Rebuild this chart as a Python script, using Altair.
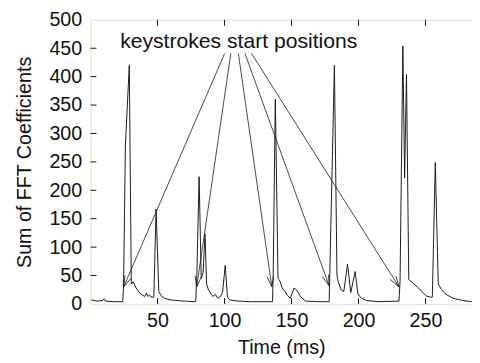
import math
import altair as alt
import pandas as pd

# ---- signal (Time in ms, Sum of FFT coefficients) ----
time_ms = [0.5, 5, 9, 10, 11, 18, 24.0, 24.6, 26.0, 28.9, 30.4, 31.8, 34, 36.7,
           40.4, 41.6, 42.8, 44, 45.2, 47.2, 48.9, 50.9, 52.5, 55, 60, 70, 78.5,
           79.3, 81.0, 82.6, 84.0, 85.4, 86.6, 88, 90, 91.5, 93, 95, 96.5, 98.5,
           100.5, 102.2, 104, 110, 120, 135.8, 136.3, 137.9, 139.9, 141.4, 143,
           145, 147, 149, 151.9, 153.5, 155, 157, 160.4, 170, 178.1, 182.0, 183.9,
           185, 187, 189, 191.8, 194.2, 197.5, 199.5, 202, 206, 215, 230.2, 231,
           233.1, 234.4, 235.8, 237.5, 240, 244.8, 248, 250.7, 253.6, 255.1, 257.3,
           259.5, 262, 264.6, 270.5, 277.8, 284.4]
fft_sum = [7, 5, 6, 9, 5, 4, 4, 30, 280, 420, 35, 39, 28, 19,
           13, 19, 13, 16, 12, 12, 167, 22, 15, 10, 7, 5, 4,
           50, 224, 45, 55, 123, 35, 25, 17, 13, 17, 10, 12, 20,
           68, 12, 7, 5, 4, 4, 50, 360, 45, 40, 28,
           22, 15, 10, 28, 25, 20, 12, 5, 4, 4, 420, 50,
           38, 25, 22, 70, 20, 57, 18, 10, 6, 4, 5, 40,
           454, 222, 404, 43, 38, 28, 20, 14, 12, 12, 249,
           35, 25, 18, 10, 6, 4]

# ---- annotation ----
label_text = "keystrokes start positions"
label_t = 110.6
label_v = 450.0
arrow_start_t = [100.1, 104.7, 110.3, 115.2, 120.1]
arrow_start_v = [441, 441, 441, 441, 441]
arrow_end_t = [24.7, 79.2, 135.3, 178.1, 230.2]
arrow_end_v = [30, 30, 30, 32, 30]

x_ticks = [50, 100, 150, 200, 250]
y_ticks = [0, 50, 100, 150, 200, 250, 300, 350, 400, 450, 500]

W, H = 388, 289
X_MAX, Y_MAX = 284.7, 500
FONT = "Liberation Sans"

sig = pd.DataFrame({"t": time_ms, "v": fft_sum})

# arrowhead angles from screen direction
angles = []
for st, sv, et, ev in zip(arrow_start_t, arrow_start_v, arrow_end_t, arrow_end_v):
    dx = (et - st) * W / X_MAX
    dy = -(ev - sv) * H / Y_MAX
    angles.append(math.degrees(math.atan2(-dx, dy)) % 360)
arr = pd.DataFrame({"t": arrow_start_t, "v": arrow_start_v,
                    "t2": arrow_end_t, "v2": arrow_end_v, "ang": angles})

xs = alt.Scale(domain=[0, X_MAX], nice=False, zero=False)
ys = alt.Scale(domain=[0, Y_MAX], nice=False, zero=False)

x_axis = alt.Axis(
    values=x_ticks, tickSize=0, domain=False, grid=False, labelOverlap=False,
    labelFontSize=20, labelPadding=7, labelFont=FONT, labelColor="#111",
    title="Time (ms)", titleFontSize=20, titleFont=FONT, titleFontWeight="normal",
    titleColor="#111", titlePadding=7)
y_axis = alt.Axis(
    values=y_ticks, tickSize=0, domain=False, grid=False, labelOverlap=False,
    labelFontSize=20, labelPadding=9, labelFont=FONT, labelColor="#111",
    title="Sum of FFT Coefficients", titleFontSize=20, titleFont=FONT,
    titleFontWeight="normal", titleColor="#111", titlePadding=15)


def xq(field):
    return alt.X(field, type="quantitative", scale=xs, axis=x_axis)


def yq(field):
    return alt.Y(field, type="quantitative", scale=ys, axis=y_axis)


line = alt.Chart(sig).mark_line(color="#1a1a1a", strokeWidth=1).encode(x=xq("t"), y=yq("v"))

rules = alt.Chart(arr).mark_rule(color="#1a1a1a", strokeWidth=0.8).encode(
    x=xq("t"), y=yq("v"), x2="t2:Q", y2="v2:Q")

heads = alt.Chart(arr).mark_point(
    shape="M -0.3 -1 L 0 0 L 0.3 -1", filled=False, color="#1a1a1a",
    strokeWidth=0.8, size=480, opacity=1).encode(
    x=xq("t2"), y=yq("v2"), angle=alt.Angle("ang:Q", scale=None))

txt = alt.Chart(pd.DataFrame({"t": [label_t], "v": [label_v], "s": [label_text]})).mark_text(
    align="center", baseline="alphabetic", fontSize=21.5, font=FONT, color="#111").encode(
    x=xq("t"), y=yq("v"), text="s:N")

tick_df_x = pd.DataFrame({"t": x_ticks})
tick_df_y = pd.DataFrame({"v": y_ticks[1:-1]})
top_ticks = alt.Chart(tick_df_x).mark_rule(color="#111", strokeWidth=1).encode(
    x=xq("t"), y=alt.value(0), y2=alt.value(6))
bot_ticks = alt.Chart(tick_df_x).mark_rule(color="#111", strokeWidth=1).encode(
    x=xq("t"), y=alt.value(H - 6), y2=alt.value(H))
left_ticks = alt.Chart(tick_df_y).mark_rule(color="#111", strokeWidth=1).encode(
    y=yq("v"), x=alt.value(0), x2=alt.value(6))

chart = alt.layer(line, rules, heads, txt, top_ticks, bot_ticks, left_ticks).properties(
    width=W, height=H,
    autosize=alt.AutoSizeParams(type="none"),
    padding={"left": 84, "top": 9, "right": 0, "bottom": 56},
).configure_view(stroke="#000", strokeWidth=1.3).configure(background="white")

chart.save("out.html", embed_options={"renderer": "svg", "actions": False})
